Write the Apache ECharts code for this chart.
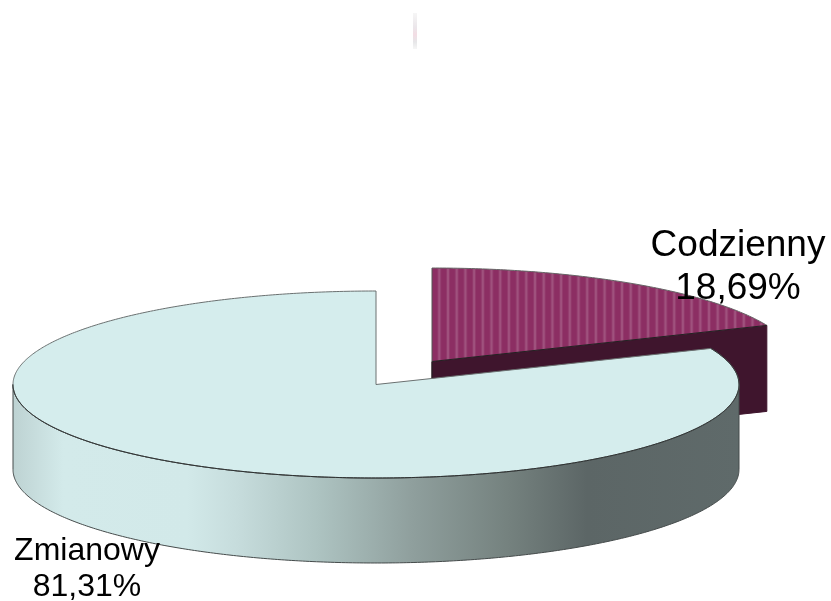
<!DOCTYPE html>
<html><head><meta charset="utf-8">
<style>html,body{margin:0;padding:0;background:#fff}#c{width:831px;height:601px}</style>
<script src="https://cdn.jsdelivr.net/npm/echarts@6/dist/echarts.min.js"></script>
</head><body><div id="c"></div>
<script>
const categories = ['Codzienny', 'Zmianowy'];
const shares = [18.69, 81.31];

const chart = echarts.init(document.getElementById('c'), null, {renderer:'canvas'});
const FONT = '"Liberation Sans", Arial, sans-serif';
const RX = 363, RY = 93.5, DEPTH = 85;
const CENTERS = [[432, 361.5], [376, 384.5]];
const LABELS = [{x:738, y:267, size:37, lh:43}, {x:87, y:569, size:32, lh:36}];
const total = shares.reduce((a,b)=>a+b,0);
const edge = (c,a,dy=0)=>[c[0]+RX*Math.sin(a), c[1]-RY*Math.cos(a)+dy];
function arc(c,a0,a1,dy=0){const n=Math.max(2,Math.ceil(Math.abs(a1-a0)/0.01));const p=[];
  for(let i=0;i<=n;i++)p.push(edge(c,a0+(a1-a0)*i/n,dy));return p;}
const angleRange = i => {const before = shares.slice(0,i).reduce((a,b)=>a+b,0);
  return [before/total*2*Math.PI,(before+shares[i])/total*2*Math.PI];};
const WALL = {type:'linear',x:0,y:0,x2:1,y2:0,colorStops:[
 {offset:0,color:'#bdd2d2'},{offset:0.07,color:'#d3eaea'},{offset:0.24,color:'#d2e9e9'},
 {offset:0.31,color:'#c6dcdc'},{offset:0.42,color:'#adc3c1'},{offset:0.55,color:'#8f9f9d'},
 {offset:0.68,color:'#75827f'},{offset:0.79,color:'#5c6666'},{offset:1,color:'#5f6a6a'}]};

function renderSmall(i){
  const c=CENTERS[i],[a0,a1]=angleRange(i),kids=[];
  const end=edge(c,a1);
  kids.push({type:'polygon',shape:{points:[c,end,[end[0],end[1]+DEPTH+1],[c[0],c[1]+DEPTH+1]]},
    style:{fill:'#3f152d',stroke:'#3f152d',lineWidth:1}});
  kids.push({type:'polygon',shape:{points:[c].concat(arc(c,a0,a1))},style:{fill:'#8c2e63'}});
  for(let x=c[0]+7.3;x<end[0]-1;x+=8.7){
    const s=(x-c[0])/RX; const top=c[1]-RY*Math.sqrt(1-s*s);
    const bot=c[1]+(end[1]-c[1])*(x-c[0])/(end[0]-c[0]);
    kids.push({type:'rect',shape:{x:x-2,y:top+0.5,width:4,height:bot-top-0.5},style:{fill:'rgba(255,255,255,0.06)'}});
    kids.push({type:'rect',shape:{x:x-1,y:top+0.5,width:2,height:bot-top-0.5},style:{fill:'rgba(255,255,255,0.12)'}});
  }
  kids.push({type:'polyline',shape:{points:arc(c,a0,a1)},style:{fill:null,stroke:'#666',lineWidth:1}});
  kids.push({type:'polyline',shape:{points:[[c[0],c[1]+18],c,end]},style:{fill:null,stroke:'#222',lineWidth:1}});
  kids.push({type:'polyline',shape:{points:[[c[0],c[1]],edge(c,a0)]},style:{fill:null,stroke:'#555',lineWidth:1}});
  return kids;
}
function renderBig(i){
  const c=CENTERS[i],[a0,a1]=angleRange(i),kids=[];
  const front=arc(c,Math.PI/2,3*Math.PI/2);
  const bottom=arc(c,3*Math.PI/2,Math.PI/2,DEPTH);
  kids.push({type:'polygon',shape:{points:front.concat(bottom)},style:{fill:WALL,stroke:'#444a4a',lineWidth:1}});
  kids.push({type:'polygon',shape:{points:[c].concat(arc(c,a0,a1))},style:{fill:'#d5eded',stroke:'#6a7070',lineWidth:1,lineJoin:'miter'}});
  kids.push({type:'polyline',shape:{points:arc(c,a0,3*Math.PI/2)},style:{fill:null,stroke:'#2c3030',lineWidth:1}});
  return kids;
}
function renderLabel(i){
  const l=LABELS[i];
  const txt=categories[i]+'\n'+shares[i].toFixed(2).replace('.',',')+'%';
  return {type:'text',z2:20,style:{x:l.x,y:l.y,text:txt,fill:'#000',font:l.size+'px '+FONT,fontSize:l.size,fontFamily:'Liberation Sans',lineHeight:l.lh,align:'center',verticalAlign:'middle'}};
}
chart.setOption({
  animation:false,
  graphic:[{type:'rect',silent:true,shape:{x:413,y:13,width:4,height:36},
    style:{fill:{type:'linear',x:0,y:0,x2:0,y2:1,colorStops:[
      {offset:0,color:'#f6f6f6'},{offset:0.4,color:'#ebe6ea'},{offset:0.6,color:'#f3dde4'},{offset:0.8,color:'#e6e6e8'},{offset:1,color:'#f6f6f6'}]}}}],
  series:[{type:'custom',coordinateSystem:'none',silent:true,
    data:categories.map((n,i)=>({name:n,value:[i,shares[i]]})),
    renderItem(params){
      const i=params.dataIndex;
      return {type:'group',children:i===0?renderSmall(i):renderBig(i)};
    }},
    {type:'custom',coordinateSystem:'none',silent:true,z:5,
    data:categories.map((n,i)=>({name:n,value:[i,shares[i]]})),
    renderItem(params){return renderLabel(params.dataIndex);}}]
});
</script></body></html>
